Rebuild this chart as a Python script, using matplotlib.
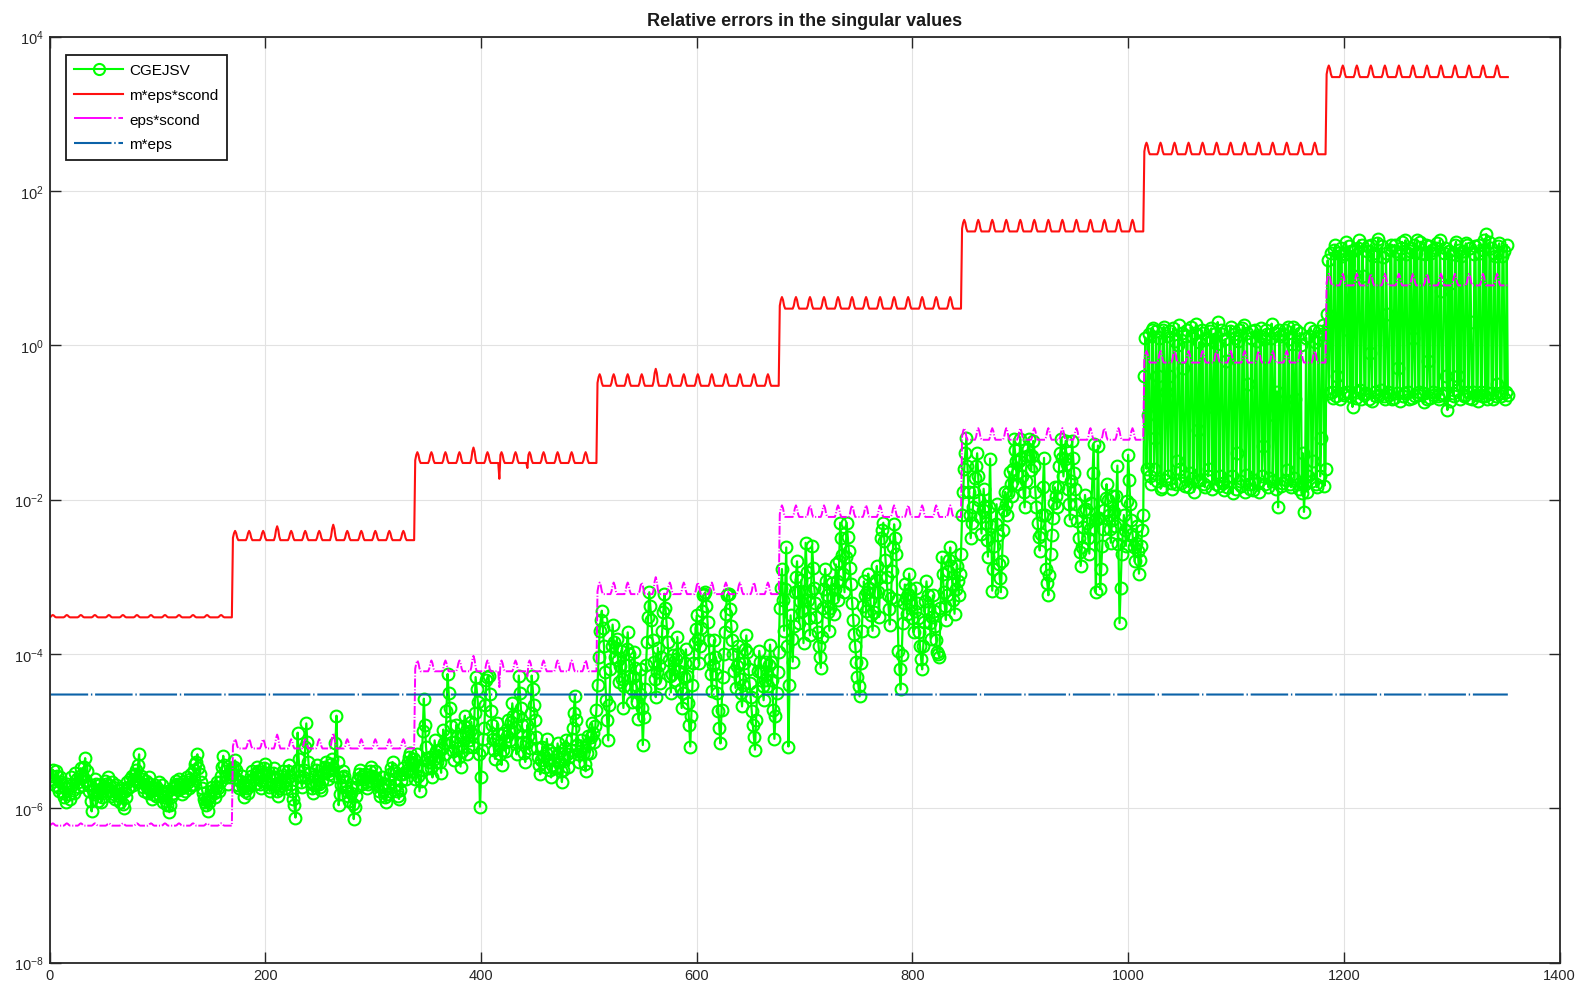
import numpy as np
import matplotlib
matplotlib.use('Agg')
import matplotlib.pyplot as plt
from matplotlib.lines import Line2D
from matplotlib.ticker import FixedLocator, NullLocator, LogFormatterSciNotation

plt.rcParams['font.family'] = ['Liberation Sans', 'DejaVu Sans']
plt.rcParams['mathtext.fontset'] = 'custom'
plt.rcParams['mathtext.rm'] = 'Liberation Sans'
plt.rcParams['mathtext.it'] = 'Liberation Sans:italic'
plt.rcParams['mathtext.bf'] = 'Liberation Sans:bold'
plt.rcParams['lines.scale_dashes'] = False

# single precision unit roundoff and row count
eps_single = 5.96e-8
m_rows = 500

# 8 groups of 169 test matrices, scond = 10^1 ... 10^8
seg_len = 169
block_len = 13
scond_exp = [1, 2, 3, 4, 5, 6, 7, 8]

# small periodic bumps of scond inside each block (decades)
bump_shape = [0.25, 0.75, 1.0, 0.75, 0.25, 0, 0, 0, 0, 0, 0, 0, 0]
bump_height = [0.03, 0.12, 0.14, 0.15, 0.15, 0.15, 0.15, 0.15]
block_extra = {(1, 3): 0.06, (1, 7): 0.08, (2, 4): 0.06, (3, 4): 0.07}
scond_dips = {417: -0.24, 443: -0.10}

# log10 of the CGEJSV relative errors, odd indices 1, 3, ..., 169 of each group
err_seg1 = [-5.62, -5.50, -5.70, -5.58, -5.78, -5.66, -5.85, -5.92, -5.74, -5.88,
            -5.70, -5.80, -5.62, -5.72, -5.48, -5.60, -5.35, -5.52, -5.78, -6.04,
            -5.82, -5.68, -5.90, -5.75, -5.86, -5.64, -5.78, -5.70, -5.84, -5.72,
            -5.88, -5.76, -5.92, -5.80, -6.00, -5.86, -5.74, -5.62, -5.70, -5.55,
            -5.66, -5.30, -5.58, -5.72, -5.64, -5.80, -5.68, -5.88, -5.74, -5.84,
            -5.66, -5.78, -5.92, -5.82, -5.96, -6.05, -5.86, -5.74, -5.64, -5.76,
            -5.68, -5.82, -5.72, -5.60, -5.74, -5.56, -5.68, -5.42, -5.30, -5.56,
            -5.74, -5.88, -5.96, -6.03, -5.84, -5.72, -5.86, -5.66, -5.78, -5.58,
            -5.32, -5.52, -5.68, -5.60, -5.48]
err_seg2 = [-5.55, -5.38, -5.62, -5.74, -5.58, -5.86, -5.70, -5.80, -5.64, -5.52,
            -5.68, -5.46, -5.60, -5.74, -5.56, -5.42, -5.66, -5.78, -5.60, -5.48,
            -5.70, -5.84, -5.66, -5.52, -5.74, -5.62, -5.44, -5.68, -5.88, -6.12,
            -5.02, -5.58, -5.72, -5.50, -4.90, -5.40, -5.66, -5.80, -5.58, -5.44,
            -5.68, -5.76, -5.54, -5.40, -5.62, -5.50, -5.36, -5.58, -4.80, -5.96,
            -5.70, -5.52, -5.64, -5.78, -5.90, -5.72, -6.14, -5.84, -5.62, -5.50,
            -5.68, -5.56, -5.74, -5.60, -5.46, -5.66, -5.52, -5.70, -5.84, -5.60,
            -5.76, -5.92, -5.70, -5.56, -5.40, -5.62, -5.78, -5.88, -5.64, -5.48,
            -5.62, -5.40, -5.28, -5.52, -5.36]
err_seg3 = [-5.62, -5.30, -5.78, -5.50, -4.58, -5.20, -5.48, -5.34, -5.60, -5.12,
            -5.40, -5.24, -5.54, -4.98, -5.30, -4.26, -4.70, -5.14, -5.38, -4.92,
            -5.22, -5.46, -5.06, -4.80, -5.30, -5.12, -4.88, -5.20, -4.30, -4.62,
            -5.98, -5.24, -4.96, -4.34, -4.28, -4.74, -5.10, -5.36, -4.90, -5.18,
            -5.44, -5.02, -5.26, -4.86, -5.12, -4.64, -4.96, -5.30, -4.28, -4.70,
            -5.14, -5.40, -4.92, -5.22, -4.28, -4.66, -5.08, -5.34, -5.56, -5.20,
            -5.46, -5.10, -5.38, -5.60, -5.28, -5.48, -5.16, -5.40, -5.66, -5.34,
            -5.12, -5.46, -5.24, -4.96, -4.54, -5.18, -5.40, -5.12, -5.30, -5.52,
            -5.06, -5.28, -4.90, -5.14, -4.72]
err_seg4 = [-4.40, -3.70, -3.44, -3.90, -4.60, -5.12, -4.20, -3.62, -4.04, -3.80,
            -4.36, -3.96, -4.70, -4.14, -3.72, -4.28, -4.62, -3.98, -4.40, -4.84,
            -4.20, -5.18, -4.46, -3.84, -3.20, -3.56, -4.10, -4.56, -3.92, -4.38,
            -3.70, -3.22, -3.60, -4.08, -4.50, -4.02, -4.34, -3.78, -4.22, -4.70,
            -4.30, -3.94, -4.64, -5.20, -4.40, -3.86, -3.50, -4.12, -3.66, -3.24,
            -3.20, -3.58, -4.06, -4.48, -3.82, -4.26, -4.74, -5.16, -4.30, -3.72,
            -3.24, -3.22, -3.64, -4.00, -4.44, -3.90, -4.32, -4.68, -4.12, -3.76,
            -4.20, -4.56, -4.92, -5.24, -4.48, -3.96, -4.24, -4.60, -4.10, -4.42,
            -3.88, -4.34, -5.10, -4.50, -3.98]
err_seg5 = [-3.40, -2.90, -3.70, -2.62, -5.20, -3.50, -4.10, -3.20, -2.80, -3.60,
            -3.04, -3.86, -2.56, -3.30, -3.76, -2.60, -3.14, -3.52, -3.90, -4.18,
            -3.40, -2.90, -3.24, -3.70, -3.08, -3.48, -2.84, -3.30, -2.30, -2.72,
            -3.20, -2.30, -2.66, -3.10, -3.56, -3.90, -4.30, -4.55, -3.70, -3.06,
            -3.44, -2.96, -3.30, -3.70, -3.20, -2.86, -3.52, -2.50, -2.30, -2.78,
            -3.24, -3.62, -2.92, -2.32, -2.70, -3.96, -4.46, -3.60, -3.10, -3.48,
            -2.96, -3.36, -3.72, -3.14, -3.54, -3.90, -4.20, -3.58, -3.06, -3.42,
            -3.80, -3.24, -3.64, -3.98, -4.04, -2.74, -3.20, -3.56, -2.92, -2.62,
            -3.10, -3.48, -2.86, -3.24, -2.70]
err_seg6 = [-2.20, -1.60, -1.20, -1.90, -2.50, -2.10, -1.72, -1.40, -2.00, -2.44,
            -1.86, -2.30, -2.74, -1.47, -3.18, -2.60, -2.06, -2.84, -3.20, -2.40,
            -1.90, -2.20, -1.64, -1.96, -1.22, -1.50, -1.80, -1.22, -1.70, -2.10,
            -1.44, -1.22, -1.62, -1.24, -1.90, -2.30, -2.66, -2.20, -1.46, -2.90,
            -3.24, -2.70, -2.24, -1.84, -2.10, -1.56, -1.22, -1.70, -1.24, -1.86,
            -2.26, -1.24, -1.66, -2.06, -2.50, -2.86, -2.36, -1.94, -2.30, -2.70,
            -2.04, -1.28, -3.20, -1.30, -3.16, -2.60, -2.14, -1.80, -2.20, -2.56,
            -1.96, -2.34, -1.56, -3.60, -2.70, -2.20, -2.60, -1.42, -2.06, -2.44,
            -2.80, -2.34, -2.96, -2.60, -2.20]
err_seg7 = [-0.40, -1.60, 0.15, -1.80, 0.22, -1.20, -1.76, 0.10, -1.84, 0.24,
            -0.60, -1.70, 0.18, -1.86, 0.05, -1.50, 0.26, -1.78, -0.30, -1.82,
            0.20, -1.66, 0.12, -1.90, 0.28, -1.10, -1.74, 0.16, -1.84, 0.08,
            -1.60, 0.22, -0.80, -1.80, 0.30, -1.70, 0.14, -1.88, -0.20, -1.76,
            0.24, -1.92, 0.10, -1.40, 0.20, -1.82, 0.26, -1.68, -0.50, -1.86,
            0.18, -1.74, 0.06, -1.90, 0.22, -1.30, -1.80, 0.14, -1.72, 0.28,
            -0.90, -1.86, -2.10, 0.12, -1.78, 0.20, -1.62, 0.08, -1.84, 0.24,
            -0.70, -1.80, 0.16, -1.92, -2.16, 0.10, -1.70, 0.22, -1.50, 0.04,
            -1.84, 0.18, -1.20, 0.26, -1.60]
err_seg8 = [0.40, -0.62, 1.20, -0.68, 1.30, -0.40, -0.70, 1.16, -0.64, 1.34,
            0.20, -0.66, -0.80, 1.24, -0.60, 1.36, -0.70, 0.90, -0.62, 1.28,
            -0.10, -0.72, 1.20, -0.66, 1.38, -0.58, 1.14, -0.70, 0.40, -0.64,
            1.30, -0.68, 1.22, -0.30, -0.72, 1.34, -0.62, 1.18, -0.70, 1.26,
            0.10, -0.66, 1.36, -0.60, 1.20, -0.74, 1.30, -0.20, -0.68, 1.24,
            -0.64, 1.32, -0.70, 0.70, -0.62, 1.26, -0.84, -0.72, 1.18, -0.66,
            1.34, -0.40, -0.70, 1.22, -0.64, 1.30, -0.68, 0.30, -0.60, 1.28,
            -0.72, 1.20, -0.66, 1.36, 1.44, -0.62, 1.26, -0.70, 1.16, -0.50,
            1.32, -0.66, 1.22, -0.60, -0.64]

# even indices 2, 4, ..., 168 of each group
mid_seg1 = [-5.58, -5.64, -5.52, -5.72, -5.60, -5.80, -5.74, -5.68, -5.82, -5.60,
            -5.76, -5.54, -5.66, -5.58, -5.70, -5.46, -5.64, -5.70, -5.90, -5.76,
            -5.62, -5.80, -5.70, -5.92, -5.74, -5.68, -5.60, -5.78, -5.66, -5.82,
            -5.70, -5.84, -5.74, -5.94, -5.78, -5.66, -5.72, -5.58, -5.62, -5.50,
            -5.44, -5.66, -5.62, -5.78, -5.72, -5.60, -5.78, -5.82, -5.70, -5.74,
            -5.84, -5.70, -5.86, -5.90, -5.78, -5.96, -5.80, -5.70, -5.68, -5.62,
            -5.74, -5.66, -5.78, -5.66, -5.62, -5.70, -5.50, -5.40, -5.48, -5.66,
            -5.80, -5.92, -5.88, -5.92, -5.78, -5.80, -5.72, -5.74, -5.66, -5.46,
            -5.44, -5.60, -5.56, -5.54]
mid_seg2 = [-5.46, -5.50, -5.70, -5.64, -5.72, -5.78, -5.74, -5.70, -5.58, -5.62,
            -5.56, -5.52, -5.68, -5.64, -5.48, -5.54, -5.72, -5.68, -5.54, -5.60,
            -5.78, -5.74, -5.58, -5.64, -5.68, -5.52, -5.58, -5.78, -5.96, -5.50,
            -5.36, -5.66, -5.60, -5.20, -5.14, -5.54, -5.74, -5.70, -5.50, -5.58,
            -5.72, -5.64, -5.46, -5.52, -5.56, -5.42, -5.48, -5.16, -5.40, -5.82,
            -5.60, -5.58, -5.72, -5.84, -5.80, -5.94, -5.98, -5.72, -5.56, -5.60,
            -5.62, -5.66, -5.68, -5.52, -5.58, -5.60, -5.62, -5.78, -5.72, -5.68,
            -5.86, -5.82, -5.62, -5.48, -5.52, -5.70, -5.84, -5.76, -5.56, -5.54,
            -5.50, -5.34, -5.40, -5.44]
mid_seg3 = [-5.46, -5.58, -5.64, -5.00, -4.92, -5.36, -5.40, -5.48, -5.36, -5.26,
            -5.32, -5.40, -5.22, -5.16, -4.74, -4.50, -4.94, -5.26, -5.14, -5.08,
            -5.34, -5.26, -4.94, -5.04, -5.20, -5.00, -5.04, -4.76, -4.46, -5.30,
            -5.60, -5.10, -4.66, -4.30, -4.52, -4.92, -5.24, -5.12, -5.04, -5.30,
            -5.24, -5.14, -5.06, -5.00, -4.88, -4.80, -5.14, -4.80, -4.50, -4.92,
            -5.28, -5.16, -5.06, -4.76, -4.46, -4.86, -5.22, -5.44, -5.38, -5.32,
            -5.28, -5.24, -5.50, -5.44, -5.38, -5.32, -5.28, -5.52, -5.50, -5.22,
            -5.30, -5.34, -5.10, -4.76, -4.86, -5.30, -5.26, -5.20, -5.42, -5.28,
            -5.16, -5.08, -5.02, -4.94]
mid_seg4 = [-4.04, -3.56, -3.66, -4.24, -4.86, -4.66, -3.90, -3.84, -3.92, -4.08,
            -4.16, -4.32, -4.42, -3.94, -4.00, -4.44, -4.30, -4.18, -4.62, -4.52,
            -4.70, -4.82, -4.14, -3.52, -3.38, -3.82, -4.32, -4.24, -4.14, -4.04,
            -3.46, -3.40, -3.84, -4.28, -4.26, -4.18, -4.06, -4.00, -4.46, -4.50,
            -4.12, -4.28, -4.92, -4.80, -4.12, -3.68, -3.80, -3.90, -3.44, -3.22,
            -3.38, -3.82, -4.26, -4.14, -4.04, -4.50, -4.96, -4.72, -4.00, -3.48,
            -3.22, -3.42, -3.82, -4.22, -4.16, -4.12, -4.50, -4.40, -3.94, -3.98,
            -4.38, -4.74, -5.08, -4.86, -4.22, -4.10, -4.42, -4.34, -4.26, -4.14,
            -4.10, -4.72, -4.80, -4.24]
mid_seg5 = [-3.14, -3.30, -3.16, -3.90, -4.40, -3.80, -3.64, -3.00, -3.20, -3.32,
            -3.44, -3.20, -2.94, -3.54, -3.18, -2.88, -3.34, -3.72, -4.04, -3.78,
            -3.16, -3.06, -3.46, -3.40, -3.28, -3.16, -3.06, -2.80, -2.50, -2.96,
            -2.74, -2.48, -2.88, -3.34, -3.74, -4.10, -4.42, -4.12, -3.38, -3.24,
            -3.20, -3.14, -3.50, -3.46, -3.04, -3.20, -3.00, -2.40, -2.54, -3.00,
            -3.42, -3.28, -2.62, -2.50, -3.30, -4.20, -4.02, -3.34, -3.28, -3.22,
            -3.16, -3.54, -3.44, -3.34, -3.72, -4.06, -3.90, -3.32, -3.24, -3.60,
            -3.52, -3.44, -3.82, -4.00, -3.40, -2.96, -3.38, -3.24, -2.78, -2.86,
            -3.30, -3.16, -3.06, -2.96]
mid_seg6 = [-1.90, -1.40, -1.56, -2.20, -2.30, -1.90, -1.56, -1.70, -2.22, -2.14,
            -2.08, -2.52, -2.10, -2.34, -2.90, -2.32, -2.46, -3.02, -2.80, -2.14,
            -2.06, -1.92, -1.80, -1.60, -1.36, -1.66, -1.50, -1.46, -1.90, -1.76,
            -1.34, -1.42, -1.44, -1.56, -2.10, -2.48, -2.44, -1.84, -2.20, -3.08,
            -2.98, -2.46, -2.04, -1.96, -1.84, -1.40, -1.46, -1.48, -1.54, -2.06,
            -1.76, -1.46, -1.86, -2.28, -2.68, -2.62, -2.14, -2.12, -2.50, -2.38,
            -1.66, -2.26, -2.24, -2.24, -2.90, -2.38, -1.98, -2.00, -2.38, -2.26,
            -2.16, -1.96, -2.58, -3.14, -2.46, -2.40, -2.02, -1.74, -2.26, -2.62,
            -2.56, -2.66, -2.78, -2.40]
mid_seg7 = [0.10, -0.90, -1.70, 0.20, -1.60, 0.18, -0.40, -1.86, 0.20, -1.74,
            0.12, -0.40, -1.78, 0.22, -1.80, 0.00, -1.60, 0.16, -1.70, 0.12,
            -1.84, 0.24, -1.72, 0.16, -1.76, 0.04, 0.20, -1.80, 0.10, -1.70,
            0.18, -1.86, 0.14, 0.02, -1.82, 0.20, -1.78, 0.08, -1.84, 0.18,
            -1.70, 0.14, -1.86, 0.06, -1.76, 0.22, -1.90, 0.16, -1.80, 0.10,
            -1.88, 0.20, -1.78, 0.12, -1.70, 0.08, 0.20, -1.84, 0.10, -1.76,
            0.16, -0.60, 0.20, -1.82, 0.14, -1.74, 0.24, -1.80, 0.02, -1.72,
            0.20, -1.86, 0.00, -1.40, -1.80, -1.90, 0.12, -1.76, 0.18, -1.80,
            0.10, -1.70, 0.14, -1.82]
mid_seg8 = [1.10, 0.30, -0.60, 1.24, -0.66, 1.20, 1.26, -0.62, 1.18, -0.60,
            1.28, 1.22, 0.90, -0.68, 1.26, -0.58, 1.30, -0.64, 1.22, -0.70,
            1.30, 1.16, -0.60, 1.32, -0.64, 1.28, -0.66, 1.20, -0.60, 1.24,
            -0.70, 1.30, -0.62, 1.18, 1.26, -0.66, 1.36, -0.60, 1.22, -0.68,
            1.30, 1.20, -0.64, 1.34, -0.62, 1.18, -0.70, 1.28, 1.20, -0.60,
            1.26, -0.66, 1.36, -0.64, 1.20, -0.40, 1.22, 0.80, -0.62, 1.30,
            -0.58, 1.24, 1.16, -0.66, 1.32, -0.60, 1.26, -0.70, 1.18, -0.64,
            1.30, -0.60, 1.24, -0.66, -0.70, 1.34, -0.62, 1.20, -0.66, 1.28,
            -0.62, 1.16, -0.70, 1.30]

err_segs = [err_seg1, err_seg2, err_seg3, err_seg4,
            err_seg5, err_seg6, err_seg7, err_seg8]
mid_segs = [mid_seg1, mid_seg2, mid_seg3, mid_seg4,
            mid_seg5, mid_seg6, mid_seg7, mid_seg8]

# ---- build the curves ----
n = seg_len * len(scond_exp)
idx = np.arange(1, n + 1)
log_scond = np.zeros(n)
for k, e in enumerate(scond_exp):
    for b in range(seg_len // block_len):
        h = bump_height[k] + block_extra.get((k, b), 0.0)
        for j in range(block_len):
            log_scond[k * seg_len + b * block_len + j] = e + h * bump_shape[j]
for xpos, d in scond_dips.items():
    log_scond[xpos - 1] += d
scond = 10.0 ** log_scond

bound_m = m_rows * eps_single * scond
bound_eps = eps_single * scond
bound_flat = np.full(n, m_rows * eps_single)

log_err = np.empty(n)
for k in range(len(scond_exp)):
    part = log_err[k * seg_len:(k + 1) * seg_len]
    part[0::2] = err_segs[k]
    part[1::2] = mid_segs[k]
err_y = 10.0 ** log_err

# ---- figure ----
fig = plt.figure(figsize=(15.89, 9.95), dpi=100)
ax = fig.add_axes([0.0312, 0.0315, 0.9503, 0.9308])

green = '#00ff00'
ax.semilogy(idx, err_y, '-o', color=green, lw=1.6, ms=8.5,
            mfc='none', mec=green, mew=1.5)
ax.semilogy(idx, bound_m, '-', color='#ff1010', lw=1.5)
ax.semilogy(idx, bound_eps, color='#ff00ff', lw=1.4, dashes=(6.5, 1.3, 0.8, 1.3))
ax.semilogy(idx, bound_flat, color='#0b62a8', lw=1.5, dashes=(27, 2, 1, 2))

ax.set_xlim(0, 1400)
ax.set_ylim(1e-8, 1e4)
ax.set_xticks(np.arange(0, 1401, 200))
ax.yaxis.set_major_locator(FixedLocator([10.0 ** p for p in range(-8, 5, 2)]))
ax.yaxis.set_major_formatter(LogFormatterSciNotation())
ax.yaxis.set_minor_locator(NullLocator())

ax.grid(True, color='#e2e2e2', lw=0.8)
ax.set_axisbelow(True)
ax.tick_params(direction='in', top=True, right=True, length=8, width=1.0,
               labelsize=10.5, colors='#262626', pad=4)
for s in ax.spines.values():
    s.set_color('#262626')
    s.set_linewidth(1.3)

ax.set_title('Relative errors in the singular values', fontsize=13,
             fontweight='bold', pad=8, color='#1a1a1a')

handles = [
    Line2D([], [], color=green, lw=1.5, marker='o', ms=8, mfc='none', mew=1.5),
    Line2D([], [], color='#ff1010', lw=1.5),
    Line2D([], [], color='#ff00ff', lw=1.4, dashes=(27, 2, 1, 2)),
    Line2D([], [], color='#0b62a8', lw=1.5, dashes=(27, 2, 1, 2)),
]
labels = ['CGEJSV', 'm*eps*scond', 'eps*scond', 'm*eps']
leg = ax.legend(handles, labels, loc='upper left',
                bbox_to_anchor=(66 / 1589, 1 - 56 / 995),
                bbox_transform=fig.transFigure, borderaxespad=0,
                fontsize=11, handlelength=3.2, handletextpad=0.4,
                labelspacing=0.7, borderpad=0.55, numpoints=1,
                fancybox=False, framealpha=1)
leg.get_frame().set_edgecolor('#1a1a1a')
leg.get_frame().set_linewidth(1.3)

fig.savefig('out.png', dpi=100)
